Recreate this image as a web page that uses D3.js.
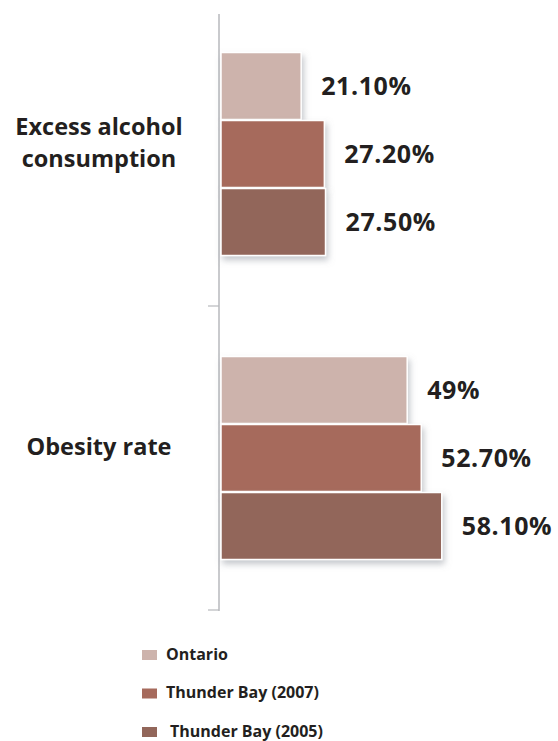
<html>
<head>
<script src="https://d3js.org/d3.v7.min.js"></script>
<style>
  body { margin: 0; background: #fff; }
  text { font-family: "Open Sans", sans-serif; font-weight: 700; fill: #231f20; }
</style>
</head>
<body>
<svg id="chart" width="558" height="741"></svg>
<script>
const categories = ['Excess alcohol consumption', 'Obesity rate'];
const categoryLines = [['Excess alcohol', 'consumption'], ['Obesity rate']];
const series = ['Ontario', 'Thunder Bay (2007)', 'Thunder Bay (2005)'];
const ontario = [21.1, 49];
const tb2007 = [27.2, 52.7];
const tb2005 = [27.5, 58.1];
const valueLabels = [['21.10%', '27.20%', '27.50%'], ['49%', '52.70%', '58.10%']];
const colors = ['#cdb3ac', '#a66a5c', '#92665a'];

const svg = d3.select('svg#chart');

const defs = svg.append('defs');
defs.append('filter')
    .attr('id', 'shadow')
    .attr('x', '-10%').attr('y', '-10%')
    .attr('width', '130%').attr('height', '140%')
  .append('feDropShadow')
    .attr('dx', 2).attr('dy', 4)
    .attr('stdDeviation', 3)
    .attr('flood-color', '#8a9099')
    .attr('flood-opacity', 0.5);

const x = d3.scaleLinear().domain([0, 100]).range([221, 601]);
const y = d3.scaleBand().domain(categories).range([2, 610]);
const inner = d3.scaleBand().domain(series).range([0, 203]).paddingInner(0.015);

const data = categories.map((c, i) => ({
  cat: c,
  lines: categoryLines[i],
  values: [ontario[i], tb2007[i], tb2005[i]].map((v, j) => ({ s: series[j], v: v, label: valueLabels[i][j], color: colors[j] }))
}));

// axis line and ticks
svg.append('line')
  .attr('x1', 219).attr('x2', 219)
  .attr('y1', 14).attr('y2', 611)
  .attr('stroke', '#b7b9bc').attr('stroke-width', 1.5);

const tickPos = [y.range()[0] + y.step(), y.range()[1]];
tickPos.forEach(t => {
  svg.append('line')
    .attr('x1', 208).attr('x2', 219)
    .attr('y1', t).attr('y2', t)
    .attr('stroke', '#b7b9bc').attr('stroke-width', 1.2);
});

const groups = svg.selectAll('g.group')
  .data(data)
  .join('g')
  .attr('class', 'group')
  .attr('transform', d => `translate(0,${y(d.cat) + (y.bandwidth() - 203) / 2})`);

groups.selectAll('rect')
  .data(d => d.values)
  .join('rect')
  .attr('x', x(0))
  .attr('y', d => inner(d.s))
  .attr('width', d => x(d.v) - x(0))
  .attr('height', inner.bandwidth())
  .attr('fill', d => d.color)
  .attr('stroke', '#fff')
  .attr('stroke-width', 1.5)
  .attr('filter', 'url(#shadow)');

groups.selectAll('text.val')
  .data(d => d.values)
  .join('text')
  .attr('class', 'val')
  .attr('x', d => x(d.v) + 20)
  .attr('y', d => inner(d.s) + inner.bandwidth() / 2)
  .attr('dy', '0.35em')
  .attr('font-size', 25)
  .attr('letter-spacing', 0.6)
  .text(d => d.label);

// category labels
const lineH = 31.5;
groups.each(function(d) {
  const g = d3.select(this);
  const n = d.lines.length;
  d.lines.forEach((ln, k) => {
    g.append('text')
      .attr('x', 99)
      .attr('y', 203 / 2 - 11 + (k - (n - 1) / 2) * lineH)
      .attr('dy', '0.35em')
      .attr('text-anchor', 'middle')
      .attr('font-size', 23.5)
      .text(ln);
  });
});

// legend
const legend = svg.selectAll('g.legend')
  .data(series)
  .join('g')
  .attr('class', 'legend')
  .attr('transform', (d, i) => `translate(142,${650 + i * 38.5})`);

legend.append('rect')
  .attr('width', 15).attr('height', 10)
  .attr('fill', (d, i) => colors[i]);

legend.append('text')
  .attr('x', (d, i) => i === 2 ? 28 : 24)
  .attr('y', 4)
  .attr('dy', '0.35em')
  .attr('font-size', 16)
  .text(d => d);
</script>
</body>
</html>
